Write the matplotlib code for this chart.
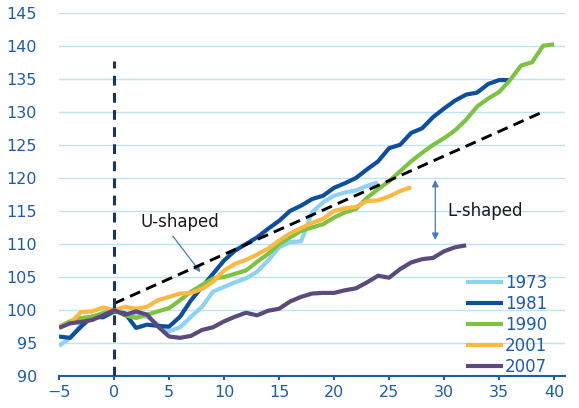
import numpy as np
import matplotlib.pyplot as plt

# quarters relative to the trough/peak (x axis)
x_ticks = [-5, 0, 5, 10, 15, 20, 25, 30, 35, 40]
y_ticks = [90, 95, 100, 105, 110, 115, 120, 125, 130, 135, 140, 145]

# index values, one value per quarter starting at -5
v1973 = [94.6, 95.8, 97.8, 98.9, 99.6, 100.0, 99.5, 99.2, 99.0, 97.8, 96.8,
         97.4, 99.0, 100.5, 102.8, 103.5, 104.2, 104.8, 105.8, 107.5, 109.5,
         110.3, 110.4, 114.8, 116.3, 117.3, 117.8, 118.1, 118.8, 119.3]
v1981 = [96.0, 95.8, 97.5, 99.0, 98.9, 99.8, 99.5, 97.3, 97.8, 97.6, 97.5,
         99.0, 101.5, 103.5, 105.5, 107.5, 109.0, 110.0, 111.0, 112.3, 113.5,
         115.0, 115.8, 116.8, 117.3, 118.5, 119.2, 120.0, 121.3, 122.5, 124.5,
         125.0, 126.8, 127.5, 129.2, 130.5, 131.7, 132.6, 132.9, 134.2, 134.8,
         134.8]
v1990 = [97.5, 98.3, 98.8, 99.0, 99.5, 100.0, 99.2, 98.8, 99.3, 99.8, 100.3,
         101.5, 102.8, 103.8, 104.8, 105.0, 105.5, 106.0, 107.3, 108.5, 110.0,
         111.0, 112.0, 112.5, 113.0, 114.0, 114.8, 115.3, 117.0, 118.3, 119.5,
         121.0, 122.5, 123.8, 125.0, 126.0, 127.2, 128.8, 130.8, 132.0, 133.0,
         134.8, 137.0, 137.5, 140.0, 140.2]
v2001 = [97.5, 98.0, 99.7, 99.8, 100.4, 100.0, 100.5, 100.2, 100.5, 101.5,
         102.0, 102.5, 102.6, 103.2, 104.3, 106.0, 107.0, 107.6, 108.4, 109.3,
         110.5, 111.6, 112.4, 113.2, 113.8, 115.0, 115.4, 115.6, 116.5, 116.6,
         117.2, 118.0, 118.6]
v2007 = [97.3, 98.0, 98.2, 98.5, 99.2, 100.0, 99.3, 99.8, 99.3, 97.5, 96.0,
         95.8, 96.1, 97.0, 97.4, 98.3, 99.0, 99.6, 99.2, 99.9, 100.2, 101.3,
         102.0, 102.5, 102.6, 102.6, 103.0, 103.3, 104.2, 105.2, 104.9, 106.2,
         107.2, 107.7, 107.9, 108.9, 109.5, 109.8]

series = [("1973", v1973, "#8ed1f2"),
          ("1981", v1981, "#0d4f9e"),
          ("1990", v1990, "#7dc242"),
          ("2001", v2001, "#fbb843"),
          ("2007", v2007, "#5c4a7d")]

# trend line (dashed black)
trend_x = [0, 39]
trend_y = [101, 130]

tick_color = "#1f5ca8"

fig = plt.figure(figsize=(5.79, 4.08), dpi=100)
ax = fig.add_axes([0.102, 0.078, 0.874, 0.891])

for yt in y_ticks[1:]:
    ax.axhline(yt, color="#bde4f4", lw=1.0, zorder=0)

for label, vals, col in series:
    xs = np.arange(len(vals)) - 5
    ax.plot(xs, vals, color=col, lw=3.0, label=label, solid_capstyle="butt", zorder=3)

ax.plot(trend_x, trend_y, color="black", lw=2.1, linestyle=(0, (3.8, 2.2)), zorder=4)
ax.plot([0, 0], [90, 137.7], color="#1b3560", lw=2.2, linestyle=(0, (3.2, 2.4)), zorder=4)

# annotations
ax.text(6.0, 113.3, "U-shaped", fontsize=12, color="#1a1a1a", ha="center", va="center")
ax.annotate("", xy=(8.0, 105.4), xytext=(5.2, 111.5),
            arrowprops=dict(arrowstyle="-|>", color="#4a7bb7", lw=0.9,
                            mutation_scale=10))
ax.text(30.3, 115.0, "L-shaped", fontsize=12, color="#1a1a1a", ha="left", va="center")
ax.annotate("", xy=(29.2, 119.7), xytext=(29.2, 110.6),
            arrowprops=dict(arrowstyle="<|-|>", color="#4a7bb7", lw=0.9,
                            mutation_scale=10, shrinkA=0, shrinkB=0))

ax.set_xlim(-5, 41)
ax.set_ylim(90, 145)
ax.set_xticks(x_ticks)
ax.set_yticks(y_ticks)
for s in ["left", "right", "top"]:
    ax.spines[s].set_visible(False)
ax.spines["bottom"].set_color(tick_color)
ax.spines["bottom"].set_linewidth(1.5)
ax.tick_params(axis="x", colors=tick_color, labelsize=11.5, length=3, width=1.5,
               direction="out", pad=3)
ax.tick_params(axis="y", colors=tick_color, labelsize=11.5, length=0, pad=16)

leg = ax.legend(loc="upper left", bbox_to_anchor=(466 / 579, 1 - 274 / 408),
                bbox_transform=fig.transFigure, frameon=False, fontsize=12,
                handlelength=2.2, handletextpad=0.15, labelspacing=0.18,
                borderpad=0, borderaxespad=0)
for t in leg.get_texts():
    t.set_color(tick_color)

fig.savefig("out.png", dpi=100)
